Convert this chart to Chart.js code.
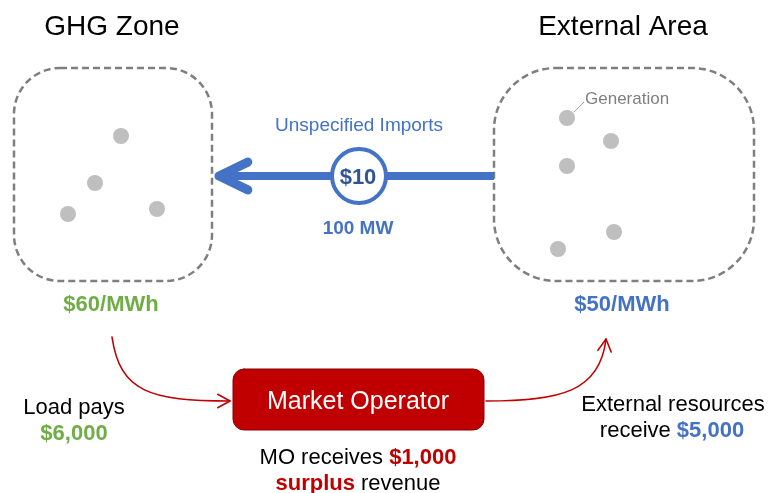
<!DOCTYPE html>
<html>
<head>
<meta charset="utf-8">
<script src="https://cdn.jsdelivr.net/npm/chart.js@4.4.1/dist/chart.umd.min.js"></script>
<style>
  html, body { margin: 0; padding: 0; background: #fff; }
  canvas { display: block; }
</style>
</head>
<body>
<canvas id="diagram" width="769" height="493"></canvas>
<script>
// diagram values
const zoneNames = ['GHG Zone', 'External Area'];
const zonePrices = [60, 50]; // $/MWh
const importLabel = 'Unspecified Imports';
const importFlow = 100; // MW
const operatorName = 'Market Operator';

// generator dots (diagram units, y grows downward)
const ghgGeneration = [
  { x: 121, y: 136 }, { x: 95, y: 183 }, { x: 68, y: 214 }, { x: 157, y: 209 },
];
const externalGeneration = [
  { x: 567, y: 118 }, { x: 611, y: 141 }, { x: 567, y: 166 }, { x: 614, y: 232 }, { x: 558, y: 249 },
];

const FONT = '"Liberation Sans", Arial, sans-serif';
const GREEN = '#70ad47';
const BLUE = '#4472c4';
const DARK_BLUE = '#2f5597';
const RED = '#c00000';
const GREY = '#7f7f7f';

const money = (n) => `$${n.toLocaleString('en-US')}`;
const loadPays = zonePrices[0] * importFlow;
const externalReceives = zonePrices[1] * importFlow;
const surplus = loadPays - externalReceives;
const spread = zonePrices[0] - zonePrices[1];

function roundBox(ctx, x, y, w, h, r) {
  ctx.beginPath();
  ctx.moveTo(x + r, y);
  ctx.arcTo(x + w, y, x + w, y + h, r);
  ctx.arcTo(x + w, y + h, x, y + h, r);
  ctx.arcTo(x, y + h, x, y, r);
  ctx.arcTo(x, y, x + w, y, r);
  ctx.closePath();
}

function richLine(ctx, parts, cx, y) {
  const widths = parts.map(({ text, font }) => { ctx.font = font; return ctx.measureText(text).width; });
  let x = cx - widths.reduce((a, b) => a + b, 0) / 2;
  ctx.textAlign = 'left';
  ctx.textBaseline = 'alphabetic';
  parts.forEach(({ text, font, color }, i) => {
    ctx.font = font;
    ctx.fillStyle = color;
    ctx.fillText(text, x, y);
    x += widths[i];
  });
}

function chevron(ctx, tx, ty, angle, len, spread) {
  ctx.beginPath();
  ctx.moveTo(tx + len * Math.cos(angle - spread), ty + len * Math.sin(angle - spread));
  ctx.lineTo(tx, ty);
  ctx.lineTo(tx + len * Math.cos(angle + spread), ty + len * Math.sin(angle + spread));
  ctx.stroke();
}

const diagramPlugin = {
  id: 'diagram',
  beforeDatasetsDraw(chart) {
    const { ctx, scales: { x, y } } = chart;
    const px = (v) => x.getPixelForValue(v);
    const py = (v) => y.getPixelForValue(v);

    ctx.save();
    ctx.strokeStyle = GREY;
    ctx.lineWidth = 2.5;
    ctx.setLineDash([7, 4]);
    roundBox(ctx, px(14), py(68), px(212) - px(14), py(281) - py(68), 46);
    ctx.stroke();
    roundBox(ctx, px(494), py(68), px(754) - px(494), py(281) - py(68), 62);
    ctx.stroke();
    ctx.restore();
  },
  afterDatasetsDraw(chart) {
    const { ctx, scales: { x, y } } = chart;
    const px = (v) => x.getPixelForValue(v);
    const py = (v) => y.getPixelForValue(v);
    const reg = `22px ${FONT}`;
    const bold = `bold 22px ${FONT}`;

    ctx.save();

    // titles
    ctx.fillStyle = '#000';
    ctx.font = `28px ${FONT}`;
    ctx.textAlign = 'center';
    ctx.fillText(zoneNames[0], px(112), py(35));
    ctx.fillText(zoneNames[1], px(623), py(35));

    // generation callout
    ctx.strokeStyle = '#a6a6a6';
    ctx.lineWidth = 1;
    ctx.beginPath();
    ctx.moveTo(px(574), py(112));
    ctx.lineTo(px(584), py(102));
    ctx.stroke();
    ctx.fillStyle = GREY;
    ctx.font = `17px ${FONT}`;
    ctx.textAlign = 'left';
    ctx.fillText('Generation', px(585), py(104));

    // import arrow
    ctx.strokeStyle = BLUE;
    ctx.lineCap = 'round';
    ctx.lineJoin = 'round';
    ctx.lineWidth = 8;
    ctx.beginPath();
    ctx.moveTo(px(480), py(176));
    ctx.lineTo(px(219), py(176));
    ctx.stroke();
    ctx.lineCap = 'butt';
    ctx.beginPath();
    ctx.moveTo(px(494), py(176));
    ctx.lineTo(px(480), py(176));
    ctx.stroke();
    ctx.lineCap = 'round';
    ctx.lineWidth = 9;
    chevron(ctx, px(219), py(176), 0, 32, 0.45);

    ctx.beginPath();
    ctx.arc(px(359), py(176), 27, 0, Math.PI * 2);
    ctx.fillStyle = '#fff';
    ctx.fill();
    ctx.lineWidth = 4;
    ctx.stroke();
    ctx.fillStyle = DARK_BLUE;
    ctx.font = bold;
    ctx.textAlign = 'center';
    ctx.fillText(`$${spread}`, px(358), py(184));

    ctx.fillStyle = BLUE;
    ctx.font = `19px ${FONT}`;
    ctx.fillText(importLabel, px(359), py(131));
    ctx.font = `bold 19px ${FONT}`;
    ctx.fillText(`${importFlow} MW`, px(358), py(234));

    // zone prices
    ctx.font = bold;
    ctx.fillStyle = GREEN;
    ctx.fillText(`$${zonePrices[0]}/MWh`, px(111), py(311));
    ctx.fillStyle = BLUE;
    ctx.fillText(`$${zonePrices[1]}/MWh`, px(622), py(311));

    // payment flows
    ctx.strokeStyle = RED;
    ctx.lineWidth = 1.6;
    ctx.lineCap = 'round';
    ctx.beginPath();
    ctx.moveTo(px(112), py(337));
    ctx.bezierCurveTo(px(120), py(392), px(150), py(401), px(230), py(401));
    ctx.stroke();
    chevron(ctx, px(230), py(401), Math.PI, 14, 0.5);

    ctx.beginPath();
    ctx.moveTo(px(486), py(401));
    ctx.bezierCurveTo(px(560), py(401), px(600), py(392), px(606), py(339));
    ctx.stroke();
    chevron(ctx, px(606), py(339), Math.PI / 2 + 0.12, 14, 0.5);

    // market operator box
    roundBox(ctx, px(233), py(369), px(484) - px(233), py(430) - py(369), 11);
    ctx.fillStyle = RED;
    ctx.fill();
    ctx.strokeStyle = '#8c0000';
    ctx.lineWidth = 1;
    ctx.stroke();
    ctx.fillStyle = '#fff';
    ctx.font = `25px ${FONT}`;
    ctx.textAlign = 'center';
    ctx.fillText(operatorName, px(358), py(409));

    // captions
    ctx.fillStyle = '#000';
    ctx.font = reg;
    ctx.fillText('Load pays', px(74), py(414));
    ctx.fillStyle = GREEN;
    ctx.font = bold;
    ctx.fillText(money(loadPays), px(74), py(440));

    ctx.fillStyle = '#000';
    ctx.font = reg;
    ctx.fillText('External resources', px(673), py(411));
    richLine(ctx, [
      { text: 'receive ', font: reg, color: '#000' },
      { text: money(externalReceives), font: bold, color: BLUE },
    ], px(672), py(437));

    richLine(ctx, [
      { text: 'MO receives ', font: reg, color: '#000' },
      { text: money(surplus), font: bold, color: RED },
    ], px(358), py(464));
    richLine(ctx, [
      { text: 'surplus', font: bold, color: RED },
      { text: ' revenue', font: reg, color: '#000' },
    ], px(358), py(490));

    ctx.restore();
  },
};

new Chart(document.getElementById('diagram'), {
  type: 'scatter',
  data: {
    datasets: [
      { label: zoneNames[0], data: ghgGeneration },
      { label: zoneNames[1], data: externalGeneration },
    ].map((ds) => ({
      ...ds,
      pointRadius: 8,
      pointBackgroundColor: '#bfbfbf',
      pointBorderWidth: 0,
      showLine: false,
      clip: false,
    })),
  },
  options: {
    responsive: false,
    animation: false,
    events: [],
    layout: { padding: 0, autoPadding: false },
    scales: {
      x: { type: 'linear', min: 0, max: 769, display: false },
      y: { type: 'linear', min: 0, max: 493, reverse: true, display: false },
    },
    plugins: {
      legend: { display: false },
      tooltip: { enabled: false },
    },
  },
  plugins: [diagramPlugin],
});
</script>
</body>
</html>
